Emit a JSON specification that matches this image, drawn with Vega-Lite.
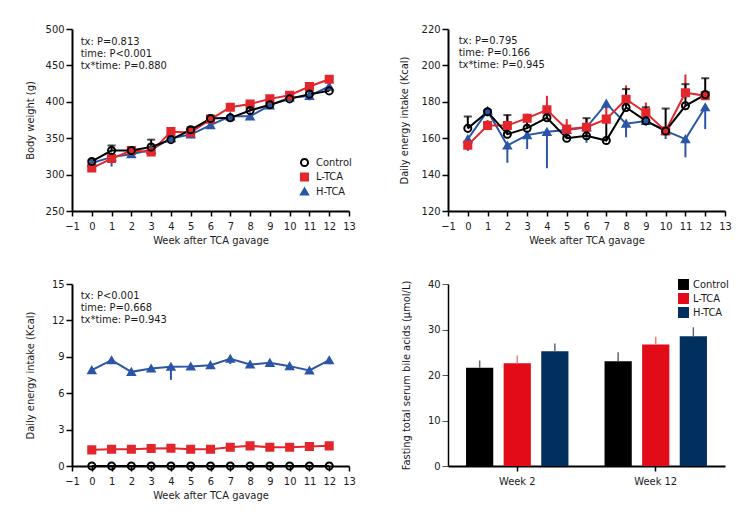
{
  "$schema": "https://vega.github.io/schema/vega-lite/v6.json",
  "padding": {"left": 24, "top": 23, "right": 5, "bottom": 5},
  "columns": 2,
  "spacing": {"row": 73, "column": 99},
  "bounds": "flush",
  "resolve": {
    "scale": {"x": "independent", "y": "independent", "color": "independent", "shape": "independent", "fill": "independent"},
    "legend": {"color": "independent", "shape": "independent", "fill": "independent"}
  },
  "config": {
    "font": "'Liberation Sans Narrow', 'DejaVu Sans Condensed', 'Roboto Condensed', Roboto, sans-serif",
    "view": {"stroke": null},
    "axis": {"domainColor": "#000000", "domainWidth": 2, "tickColor": "#000000", "tickWidth": 1.5, "tickSize": 6, "tickCount": 30, "labelFontSize": 11, "labelColor": "#1a1a1a", "titleFontSize": 11, "titleFontWeight": "normal", "titleColor": "#1a1a1a", "grid": false, "labelPadding": 2, "labelOverlap": false},
    "axisX": {"tickSize": 5, "labelPadding": 4, "titlePadding": 3, "labelFlush": false},
    "legend": {"labelFontSize": 11, "labelColor": "#1a1a1a", "rowPadding": 2.5, "clipHeight": 11, "symbolStrokeWidth": 2, "padding": 0, "labelOffset": 6, "titleFontSize": 0}
  },
  "datasets": {
    "bw": [
      {"week": 0, "group": "H-TCA", "value": 316, "err": 314},
      {"week": 1, "group": "H-TCA", "value": 324, "err": 311},
      {"week": 2, "group": "H-TCA", "value": 328, "err": 325},
      {"week": 3, "group": "H-TCA", "value": 334, "err": 331},
      {"week": 4, "group": "H-TCA", "value": 350, "err": 347},
      {"week": 5, "group": "H-TCA", "value": 355, "err": 351},
      {"week": 6, "group": "H-TCA", "value": 368, "err": 365},
      {"week": 7, "group": "H-TCA", "value": 380, "err": 378},
      {"week": 8, "group": "H-TCA", "value": 380, "err": 377},
      {"week": 9, "group": "H-TCA", "value": 395, "err": 392},
      {"week": 10, "group": "H-TCA", "value": 406, "err": 404},
      {"week": 11, "group": "H-TCA", "value": 408, "err": 402},
      {"week": 12, "group": "H-TCA", "value": 421, "err": 418},
      {"week": 0, "group": "L-TCA", "value": 309, "err": 311},
      {"week": 1, "group": "L-TCA", "value": 322, "err": 325},
      {"week": 2, "group": "L-TCA", "value": 333, "err": 335},
      {"week": 3, "group": "L-TCA", "value": 331, "err": 334},
      {"week": 4, "group": "L-TCA", "value": 359, "err": 363},
      {"week": 5, "group": "L-TCA", "value": 358, "err": 361},
      {"week": 6, "group": "L-TCA", "value": 376, "err": 378},
      {"week": 7, "group": "L-TCA", "value": 392.5, "err": 394},
      {"week": 8, "group": "L-TCA", "value": 397, "err": 400},
      {"week": 9, "group": "L-TCA", "value": 404, "err": 406},
      {"week": 10, "group": "L-TCA", "value": 409, "err": 411},
      {"week": 11, "group": "L-TCA", "value": 421, "err": 424},
      {"week": 12, "group": "L-TCA", "value": 431, "err": 434},
      {"week": 0, "group": "Control", "value": 318, "err": 320},
      {"week": 1, "group": "Control", "value": 333, "err": 340},
      {"week": 2, "group": "Control", "value": 333, "err": 336},
      {"week": 3, "group": "Control", "value": 338, "err": 348},
      {"week": 4, "group": "Control", "value": 348, "err": 351},
      {"week": 5, "group": "Control", "value": 361.5, "err": 365},
      {"week": 6, "group": "Control", "value": 377, "err": 381},
      {"week": 7, "group": "Control", "value": 378, "err": 380},
      {"week": 8, "group": "Control", "value": 388, "err": 391},
      {"week": 9, "group": "Control", "value": 396, "err": 399},
      {"week": 10, "group": "Control", "value": 404, "err": 407},
      {"week": 11, "group": "Control", "value": 410.5, "err": 414},
      {"week": 12, "group": "Control", "value": 415, "err": 417}
    ],
    "ei": [
      {"week": 0, "group": "H-TCA", "value": 159.5, "err": 153},
      {"week": 1, "group": "H-TCA", "value": 175, "err": 172},
      {"week": 2, "group": "H-TCA", "value": 156, "err": 146.5},
      {"week": 3, "group": "H-TCA", "value": 161.7, "err": 154},
      {"week": 4, "group": "H-TCA", "value": 163.5, "err": 143.5},
      {"week": 5, "group": "H-TCA", "value": 164.5, "err": 162},
      {"week": 6, "group": "H-TCA", "value": 166, "err": 157.5},
      {"week": 7, "group": "H-TCA", "value": 179, "err": 176},
      {"week": 8, "group": "H-TCA", "value": 168, "err": 160.5},
      {"week": 9, "group": "H-TCA", "value": 169.5, "err": 167},
      {"week": 10, "group": "H-TCA", "value": 164, "err": 159.5},
      {"week": 11, "group": "H-TCA", "value": 159.5, "err": 149.5},
      {"week": 12, "group": "H-TCA", "value": 177, "err": 165},
      {"week": 0, "group": "L-TCA", "value": 156.2, "err": 160},
      {"week": 1, "group": "L-TCA", "value": 167, "err": 170},
      {"week": 2, "group": "L-TCA", "value": 167, "err": 173},
      {"week": 3, "group": "L-TCA", "value": 171, "err": 173.5},
      {"week": 4, "group": "L-TCA", "value": 175.6, "err": 183.3},
      {"week": 5, "group": "L-TCA", "value": 165, "err": 170.5},
      {"week": 6, "group": "L-TCA", "value": 166, "err": 171},
      {"week": 7, "group": "L-TCA", "value": 170.5, "err": 179.6},
      {"week": 8, "group": "L-TCA", "value": 181.4, "err": 189},
      {"week": 9, "group": "L-TCA", "value": 174, "err": 179.6},
      {"week": 10, "group": "L-TCA", "value": 164, "err": 166},
      {"week": 11, "group": "L-TCA", "value": 185, "err": 195},
      {"week": 12, "group": "L-TCA", "value": 183.3, "err": 185},
      {"week": 0, "group": "Control", "value": 165.4, "err": 171.9},
      {"week": 1, "group": "Control", "value": 174.5, "err": 175.5},
      {"week": 2, "group": "Control", "value": 162.2, "err": 172.7},
      {"week": 3, "group": "Control", "value": 165.5, "err": 172.3},
      {"week": 4, "group": "Control", "value": 171.2, "err": 176.3},
      {"week": 5, "group": "Control", "value": 160, "err": 166},
      {"week": 6, "group": "Control", "value": 161.3, "err": 171},
      {"week": 7, "group": "Control", "value": 158.7, "err": 170.5},
      {"week": 8, "group": "Control", "value": 176.9, "err": 187},
      {"week": 9, "group": "Control", "value": 169.5, "err": 177},
      {"week": 10, "group": "Control", "value": 164, "err": 176.3},
      {"week": 11, "group": "Control", "value": 177.8, "err": 189.7},
      {"week": 12, "group": "Control", "value": 184, "err": 193}
    ],
    "ei2": [
      {"week": 0, "group": "H-TCA", "value": 7.9, "err": 7.7},
      {"week": 1, "group": "H-TCA", "value": 8.72, "err": 8.6},
      {"week": 2, "group": "H-TCA", "value": 7.76, "err": 7.5},
      {"week": 3, "group": "H-TCA", "value": 8.04, "err": 7.85},
      {"week": 4, "group": "H-TCA", "value": 8.18, "err": 7.1},
      {"week": 5, "group": "H-TCA", "value": 8.2, "err": 8.05},
      {"week": 6, "group": "H-TCA", "value": 8.31, "err": 8.1},
      {"week": 7, "group": "H-TCA", "value": 8.84, "err": 8.4},
      {"week": 8, "group": "H-TCA", "value": 8.37, "err": 8.2},
      {"week": 9, "group": "H-TCA", "value": 8.5, "err": 8.35},
      {"week": 10, "group": "H-TCA", "value": 8.23, "err": 8.05},
      {"week": 11, "group": "H-TCA", "value": 7.87, "err": 7.6},
      {"week": 12, "group": "H-TCA", "value": 8.72, "err": 8.4},
      {"week": 0, "group": "L-TCA", "value": 1.33, "err": 1.41},
      {"week": 1, "group": "L-TCA", "value": 1.38, "err": 1.46},
      {"week": 2, "group": "L-TCA", "value": 1.38, "err": 1.46},
      {"week": 3, "group": "L-TCA", "value": 1.44, "err": 1.52},
      {"week": 4, "group": "L-TCA", "value": 1.47, "err": 1.55},
      {"week": 5, "group": "L-TCA", "value": 1.38, "err": 1.46},
      {"week": 6, "group": "L-TCA", "value": 1.38, "err": 1.46},
      {"week": 7, "group": "L-TCA", "value": 1.55, "err": 1.63},
      {"week": 8, "group": "L-TCA", "value": 1.66, "err": 1.74},
      {"week": 9, "group": "L-TCA", "value": 1.55, "err": 1.63},
      {"week": 10, "group": "L-TCA", "value": 1.55, "err": 1.63},
      {"week": 11, "group": "L-TCA", "value": 1.6, "err": 1.68},
      {"week": 12, "group": "L-TCA", "value": 1.66, "err": 1.74},
      {"week": 0, "group": "Control", "value": 0, "err": 0},
      {"week": 1, "group": "Control", "value": 0, "err": 0},
      {"week": 2, "group": "Control", "value": 0, "err": 0},
      {"week": 3, "group": "Control", "value": 0, "err": 0},
      {"week": 4, "group": "Control", "value": 0, "err": 0},
      {"week": 5, "group": "Control", "value": 0, "err": 0},
      {"week": 6, "group": "Control", "value": 0, "err": 0},
      {"week": 7, "group": "Control", "value": 0, "err": 0},
      {"week": 8, "group": "Control", "value": 0, "err": 0},
      {"week": 9, "group": "Control", "value": 0, "err": 0},
      {"week": 10, "group": "Control", "value": 0, "err": 0},
      {"week": 11, "group": "Control", "value": 0, "err": 0},
      {"week": 12, "group": "Control", "value": 0, "err": 0}
    ],
    "ba": [
      {"week": "Week 2", "group": "Control", "value": 21.6, "err": 23.2},
      {"week": "Week 2", "group": "L-TCA", "value": 22.6, "err": 24.3},
      {"week": "Week 2", "group": "H-TCA", "value": 25.2, "err": 26.9},
      {"week": "Week 12", "group": "Control", "value": 23.0, "err": 25.0},
      {"week": "Week 12", "group": "L-TCA", "value": 26.7, "err": 28.4},
      {"week": "Week 12", "group": "H-TCA", "value": 28.5, "err": 30.5}
    ]
  },
  "concat": [
    {
      "width": 277, "height": 182,
      "layer": [
        {
          "data": {"name": "bw"},
          "mark": {"type": "rule", "strokeWidth": 2},
          "encoding": {
            "x": {"field": "week", "type": "quantitative", "scale": {"domain": [-1, 13], "nice": false, "zero": false}, "axis": {"values": [-1, 0, 1, 2, 3, 4, 5, 6, 7, 8, 9, 10, 11, 12, 13], "format": "d", "title": "Week after TCA gavage"}},
            "y": {"field": "value", "type": "quantitative", "scale": {"domain": [250, 500], "nice": false, "zero": false}, "axis": {"values": [250, 300, 350, 400, 450, 500], "format": "d", "title": "Body weight (g)", "titleX": -37}},
            "y2": {"field": "err"},
            "color": {"field": "group", "type": "nominal", "title": null, "scale": {"domain": ["Control", "L-TCA", "H-TCA"], "range": ["#000000", "#e3262c", "#2b56a6"]}, "legend": {"orient": "none", "legendX": 227, "legendY": 128, "symbolSize": 50}}
          }
        },
        {
          "data": {"name": "bw"},
          "transform": [{"filter": "datum.group === 'Control'"}],
          "mark": {"type": "tick", "orient": "horizontal", "size": 8, "thickness": 2, "color": "#000000"},
          "encoding": {
            "x": {"field": "week", "type": "quantitative"},
            "y": {"field": "err", "type": "quantitative"}
          }
        },
        {
          "data": {"name": "bw"},
          "mark": {"type": "line", "strokeWidth": 2},
          "encoding": {
            "x": {"field": "week", "type": "quantitative"},
            "y": {"field": "value", "type": "quantitative"},
            "color": {"field": "group", "type": "nominal", "title": null}
          }
        },
        {
          "data": {"name": "bw"},
          "mark": {"type": "point", "filled": false, "strokeWidth": 2, "size": 50, "opacity": 1},
          "encoding": {
            "x": {"field": "week", "type": "quantitative"},
            "y": {"field": "value", "type": "quantitative"},
            "color": {"field": "group", "type": "nominal", "title": null},
            "shape": {"field": "group", "type": "nominal", "title": null, "scale": {"domain": ["Control", "L-TCA", "H-TCA"], "range": ["circle", "square", "triangle-up"]}},
            "fill": {"field": "group", "type": "nominal", "title": null, "scale": {"domain": ["Control", "L-TCA", "H-TCA"], "range": ["rgba(255,255,255,0)", "#e3262c", "#2b56a6"]}}
          }
        },
        {
          "data": {"values": [{}]},
          "mark": {"type": "text", "align": "left", "baseline": "top", "fontSize": 11, "lineHeight": 11.7, "color": "#1a1a1a", "text": ["tx: P=0.813", "time: P<0.001", "tx*time: P=0.880"]},
          "encoding": {"x": {"datum": -0.56}, "y": {"datum": 490}}
        }
      ]
    },
    {
      "width": 277, "height": 182,
      "layer": [
        {
          "data": {"name": "ei"},
          "mark": {"type": "rule", "strokeWidth": 2},
          "encoding": {
            "x": {"field": "week", "type": "quantitative", "scale": {"domain": [-1, 13], "nice": false, "zero": false}, "axis": {"values": [-1, 0, 1, 2, 3, 4, 5, 6, 7, 8, 9, 10, 11, 12, 13], "format": "d", "title": "Week after TCA gavage"}},
            "y": {"field": "value", "type": "quantitative", "scale": {"domain": [120, 220], "nice": false, "zero": false}, "axis": {"values": [120, 140, 160, 180, 200, 220], "format": "d", "title": "Daily energy intake (Kcal)", "titleX": -39}},
            "y2": {"field": "err"},
            "color": {"field": "group", "type": "nominal", "title": null, "scale": {"domain": ["Control", "L-TCA", "H-TCA"], "range": ["#000000", "#e3262c", "#2b56a6"]}, "legend": null}
          }
        },
        {
          "data": {"name": "ei"},
          "transform": [{"filter": "datum.group === 'Control'"}],
          "mark": {"type": "tick", "orient": "horizontal", "size": 8, "thickness": 2, "color": "#000000"},
          "encoding": {
            "x": {"field": "week", "type": "quantitative"},
            "y": {"field": "err", "type": "quantitative"}
          }
        },
        {
          "data": {"name": "ei"},
          "mark": {"type": "line", "strokeWidth": 2},
          "encoding": {
            "x": {"field": "week", "type": "quantitative"},
            "y": {"field": "value", "type": "quantitative"},
            "color": {"field": "group", "type": "nominal", "title": null, "legend": null}
          }
        },
        {
          "data": {"name": "ei"},
          "mark": {"type": "point", "filled": false, "strokeWidth": 2, "size": 50, "opacity": 1},
          "encoding": {
            "x": {"field": "week", "type": "quantitative"},
            "y": {"field": "value", "type": "quantitative"},
            "color": {"field": "group", "type": "nominal", "title": null, "legend": null},
            "shape": {"field": "group", "type": "nominal", "title": null, "legend": null, "scale": {"domain": ["Control", "L-TCA", "H-TCA"], "range": ["circle", "square", "triangle-up"]}},
            "fill": {"field": "group", "type": "nominal", "title": null, "legend": null, "scale": {"domain": ["Control", "L-TCA", "H-TCA"], "range": ["rgba(255,255,255,0)", "#e3262c", "#2b56a6"]}}
          }
        },
        {
          "data": {"values": [{}]},
          "mark": {"type": "text", "align": "left", "baseline": "top", "fontSize": 11, "lineHeight": 11.7, "color": "#1a1a1a", "text": ["tx: P=0.795", "time: P=0.166", "tx*time: P=0.945"]},
          "encoding": {"x": {"datum": -0.46}, "y": {"datum": 216.6}}
        }
      ]
    },
    {
      "width": 277, "height": 182,
      "layer": [
        {
          "data": {"name": "ei2"},
          "mark": {"type": "rule", "strokeWidth": 2},
          "encoding": {
            "x": {"field": "week", "type": "quantitative", "scale": {"domain": [-1, 13], "nice": false, "zero": false}, "axis": {"values": [-1, 0, 1, 2, 3, 4, 5, 6, 7, 8, 9, 10, 11, 12, 13], "format": "d", "title": "Week after TCA gavage"}},
            "y": {"field": "value", "type": "quantitative", "scale": {"domain": [0, 15], "nice": false}, "axis": {"values": [0, 3, 6, 9, 12, 15], "format": "d", "title": "Daily energy intake (Kcal)", "titleX": -37}},
            "y2": {"field": "err"},
            "color": {"field": "group", "type": "nominal", "title": null, "scale": {"domain": ["Control", "L-TCA", "H-TCA"], "range": ["#000000", "#e3262c", "#2b56a6"]}, "legend": null}
          }
        },
        {
          "data": {"name": "ei2"},
          "mark": {"type": "line", "strokeWidth": 2},
          "encoding": {
            "x": {"field": "week", "type": "quantitative"},
            "y": {"field": "value", "type": "quantitative"},
            "color": {"field": "group", "type": "nominal", "title": null, "legend": null}
          }
        },
        {
          "data": {"name": "ei2"},
          "mark": {"type": "point", "filled": false, "strokeWidth": 2, "size": 50, "opacity": 1},
          "encoding": {
            "x": {"field": "week", "type": "quantitative"},
            "y": {"field": "value", "type": "quantitative"},
            "color": {"field": "group", "type": "nominal", "title": null, "legend": null},
            "shape": {"field": "group", "type": "nominal", "title": null, "legend": null, "scale": {"domain": ["Control", "L-TCA", "H-TCA"], "range": ["circle", "square", "triangle-up"]}},
            "fill": {"field": "group", "type": "nominal", "title": null, "legend": null, "scale": {"domain": ["Control", "L-TCA", "H-TCA"], "range": ["rgba(255,255,255,0)", "#e3262c", "#2b56a6"]}}
          }
        },
        {
          "data": {"values": [{}]},
          "mark": {"type": "text", "align": "left", "baseline": "top", "fontSize": 11, "lineHeight": 11.7, "color": "#1a1a1a", "text": ["tx: P<0.001", "time: P=0.668", "tx*time: P=0.943"]},
          "encoding": {"x": {"datum": -0.56}, "y": {"datum": 14.48}}
        }
      ]
    },
    {
      "width": 277, "height": 182,
      "layer": [
        {
          "data": {"name": "ba"},
          "mark": {"type": "bar"},
          "encoding": {
            "x": {"field": "week", "type": "nominal", "sort": ["Week 2", "Week 12"], "scale": {"paddingInner": 0, "paddingOuter": 0}, "axis": {"title": null, "labelAngle": 0, "tickSize": 5, "tickWidth": 1.5, "labelPadding": 4}},
            "xOffset": {"field": "group", "type": "nominal", "sort": ["Control", "L-TCA", "H-TCA"], "scale": {"paddingInner": 0.276, "paddingOuter": 0.48}},
            "y": {"field": "value", "type": "quantitative", "scale": {"domain": [0, 40], "nice": false}, "axis": {"values": [0, 10, 20, 30, 40], "format": "d", "title": "Fasting total serum bile acids (µmol/L)", "titleX": -37, "domainWidth": 1.5, "tickWidth": 1, "tickColor": "#555555"}},
            "color": {"field": "group", "type": "nominal", "title": null, "scale": {"domain": ["Control", "L-TCA", "H-TCA"], "range": ["#000000", "#e30b17", "#012f5e"]}, "legend": {"orient": "none", "legendX": 229, "legendY": -5, "symbolType": "square", "symbolSize": 120, "rowPadding": 2, "labelOffset": 3}}
          }
        },
        {
          "data": {"name": "ba"},
          "mark": {"type": "rule", "strokeWidth": 1.5},
          "encoding": {
            "x": {"field": "week", "type": "nominal", "sort": ["Week 2", "Week 12"]},
            "xOffset": {"field": "group", "type": "nominal", "sort": ["Control", "L-TCA", "H-TCA"]},
            "y": {"field": "value", "type": "quantitative"},
            "y2": {"field": "err"},
            "stroke": {"field": "group", "type": "nominal", "legend": null, "scale": {"domain": ["Control", "L-TCA", "H-TCA"], "range": ["#666666", "#ef8080", "#5b6b85"]}}
          }
        }
      ]
    }
  ]
}
